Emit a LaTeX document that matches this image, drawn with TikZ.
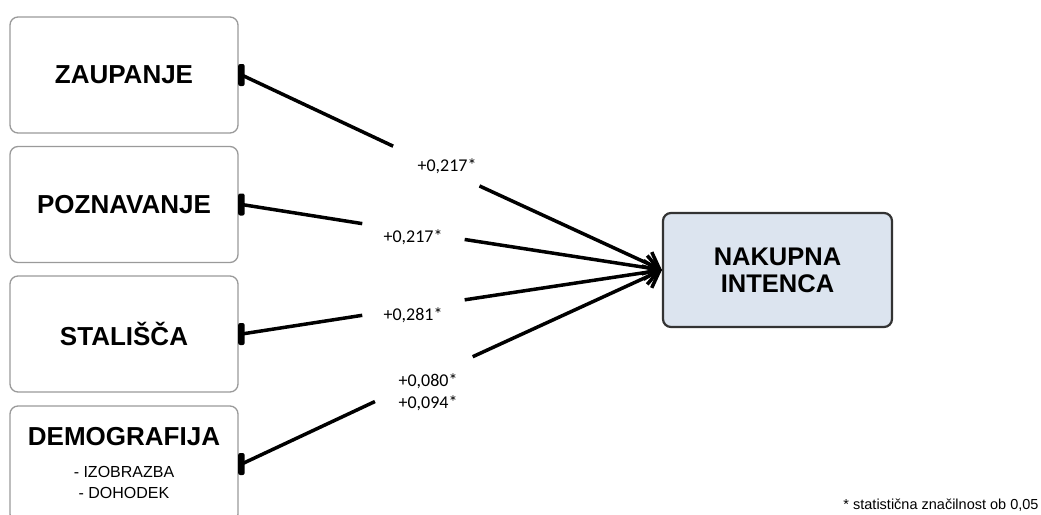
\documentclass[tikz,border=0pt]{standalone}
\usepackage{fontspec}
\setmainfont{Liberation Sans}
\newfontfamily\lblfont{Carlito}
\usetikzlibrary{arrows.meta,calc}
\definecolor{tgtfill}{HTML}{DCE4EF}
\definecolor{srcborder}{HTML}{9A9A9A}
\begin{document}
\begin{tikzpicture}[x=1pt,y=-1pt,
  boxfont/.style={font=\fontsize{26}{28}\selectfont\bfseries},
  srcbox/.style={draw=srcborder, line width=1.3pt, rounded corners=8pt, fill=white,
    minimum width=228pt, minimum height=116pt, inner sep=0pt, boxfont},
  tgtbox/.style={draw=black!80, line width=2.2pt, rounded corners=8pt, fill=tgtfill,
    minimum width=229pt, minimum height=114pt, inner sep=0pt, align=center,
    font=\fontsize{25.5}{27}\selectfont\bfseries},
  conn/.style={line width=3.5pt},
  blob/.style={fill=black, rounded corners=2pt},
  endtip/.style={-{Straight Barb[length=14pt,width=24pt]}},
  coef/.style={font=\lblfont\fontsize{18}{22}\selectfont, inner sep=0pt, align=center},
  subitem/.style={font=\fontsize{16}{18}\selectfont, inner sep=0pt},
  note/.style={font=\fontsize{14.5}{16}\selectfont, inner sep=0pt}
]
\useasboundingbox (0,0) rectangle (1041,514);
\fill[white] (0,0) rectangle (1041,514);
\clip (0,0) rectangle (1041,514);

% source boxes
\node[srcbox] (z) at (124,75) {ZAUPANJE};
\node[srcbox] (p) at (124,204.5) {POZNAVANJE};
\node[srcbox] (s) at (124,334) {STALIŠČA};
\node[srcbox] (d) at (124,464) {};
\node[boxfont, inner sep=0pt] (dt) at (124,437) {DEMOGRAFIJA};
\node[subitem] (d1) at (124,472) {- IZOBRAZBA};
\node[subitem] (d2) at (124,493) {- DOHODEK};

% target box
\node[tgtbox] (n) at (777.5,270) {NAKUPNA\\INTENCA};

% connectors (broken around their coefficients)
\foreach \src/\ga/\gb in {z/0.365/0.569, p/0.292/0.534, s/0.292/0.534, d/0.322/0.553}{
  \fill[blob] ($(\src.east)+(-0.5,-11)$) rectangle ($(\src.east)+(6,11)$);
  \draw[conn] ($(\src.east)+(3,0)$) -- ($(\src.east)!\ga!(n.west)$);
  \draw[conn,endtip] ($(\src.east)!\gb!(n.west)$) -- (n.west);
}

% coefficients
\node[coef] (lz) at (447,166) {+0,217*};
\node[coef] (lp) at (413,237) {+0,217*};
\node[coef] (ls) at (413,315) {+0,281*};
\node[coef] (ld) at (428,392) {+0,080*\\+0,094*};

% footnote
\node[note] (fn) at (941,505) {* statistična značilnost ob 0,05};
\end{tikzpicture}
\end{document}
